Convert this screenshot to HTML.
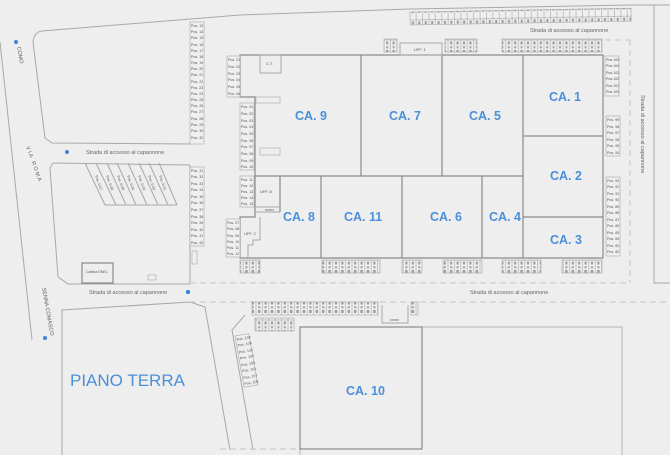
<!DOCTYPE html>
<html><head><meta charset="utf-8"><style>
html,body{margin:0;padding:0;background:#eeeeee;}
svg{display:block;font-family:"Liberation Sans",sans-serif;}
.l{fill:none;stroke:#a8a8a8;stroke-width:1}
.b{fill:none;stroke:#8a8a8a;stroke-width:1.2}
.d{fill:none;stroke:#c4c4c4;stroke-width:1;stroke-dasharray:6 4}
.p{fill:#efefef;stroke:#a5a5a5;stroke-width:.6}
.t{font-size:4px;fill:#555}
.v{font-size:3.6px;fill:#555}
.ca{font-size:12.5px;font-weight:bold;fill:#4a90d9}
.r{font-size:5.5px;fill:#666}
.dot{fill:#3a86d8}
</style></head><body>
<svg width="670" height="455" viewBox="0 0 670 455" xmlns="http://www.w3.org/2000/svg">
<!-- streets / lots -->
<polyline class="l" points="0,42 32,340"/>
<path class="l" d="M42,31 L240,15 L410,9 L630,5 L670,5"/>
<path class="l" d="M42,31 Q34,32 33,42 L45,138 L52,143 L190,144"/>
<path class="l" d="M53,163 L50,168 L58,277 L68,284 L190,284"/>
<line class="l" x1="53" y1="163" x2="190" y2="165"/>
<line class="l" x1="190" y1="165" x2="190" y2="284"/>
<path class="l" d="M62,330 L62,310 L190,302"/>
<path class="l" d="M190,302 L205,307 L230,450"/>
<path class="l" d="M245,315 L232,330 L253,450"/>
<path class="l" d="M654,5 L654,283 L670,283"/>
<line class="l" x1="62" y1="330" x2="62" y2="455"/>
<!-- dashed roads -->
<line class="d" x1="190" y1="283" x2="630" y2="283"/>
<line class="d" x1="190" y1="302" x2="670" y2="302"/>
<line class="d" x1="630" y1="40" x2="630" y2="283"/>
<line class="d" x1="605" y1="40" x2="630" y2="40"/>
<line class="d" x1="220" y1="449" x2="300" y2="449"/>
<!-- main building -->
<path class="b" d="M240,55 L603,55 L603,258 L240,258 L240,217 L255,217 L255,97 L240,97 Z"/>
<line class="b" x1="361" y1="55" x2="361" y2="176"/>
<line class="b" x1="442" y1="55" x2="442" y2="176"/>
<line class="b" x1="523" y1="55" x2="523" y2="258"/>
<line class="b" x1="255" y1="176" x2="523" y2="176"/>
<line class="b" x1="523" y1="136" x2="603" y2="136"/>
<line class="b" x1="523" y1="217" x2="603" y2="217"/>
<line class="b" x1="482" y1="176" x2="482" y2="258"/>
<line class="b" x1="402" y1="176" x2="402" y2="258"/>
<line class="b" x1="321" y1="176" x2="321" y2="258"/>
<line class="b" x1="280" y1="176" x2="280" y2="212"/>
<path class="l" d="M255,207 L280,207 M255,212 L280,212"/>
<path class="l" d="M260,217 L260,240 L253,240 L253,245 L248,245 L248,258"/>
<rect class="l" x="260" y="55" width="21" height="18"/>
<text class="t" x="266" y="65">C.T.</text>
<rect class="p" x="256" y="97" width="24" height="6"/>
<rect class="p" x="260" y="148" width="20" height="7"/>
<text class="v" x="265" y="211">xxxxx</text>
<text class="t" x="260" y="193">UFF. 8</text>
<text class="t" x="244" y="235">UFF. 2</text>
<rect class="l" x="400" y="43" width="42" height="12"/>
<text class="t" x="414" y="51">UFF. 1</text>
<!-- CA.10 -->
<rect x="300" y="327" width="322" height="130" fill="none" stroke="#b5b5b5" stroke-width="1"/>
<rect class="b" x="300" y="327" width="122" height="122"/>
<path class="l" d="M382,305 L382,323 L408,323 L408,305"/>
<!-- labels -->
<text class="ca" x="295" y="120">CA. 9</text>
<text class="ca" x="389" y="120">CA. 7</text>
<text class="ca" x="469" y="120">CA. 5</text>
<text class="ca" x="549" y="101">CA. 1</text>
<text class="ca" x="550" y="180">CA. 2</text>
<text class="ca" x="550" y="244">CA. 3</text>
<text class="ca" x="489" y="221">CA. 4</text>
<text class="ca" x="430" y="221">CA. 6</text>
<text class="ca" x="344" y="221">CA. 11</text>
<text class="ca" x="283" y="221">CA. 8</text>
<text class="ca" x="346" y="395">CA. 10</text>
<text x="70" y="386" font-size="17" fill="#4a90d9">PIANO TERRA</text>
<!-- road labels -->
<text class="r" x="86" y="154">Strada di accesso al capannone</text>
<text class="r" x="89" y="294">Strada di accesso al capannone</text>
<text class="r" x="470" y="294">Strada di accesso al capannone</text>
<text class="r" x="530" y="32">Strada di accesso al capannone</text>
<text class="r" transform="translate(641,95) rotate(90)">Strada di accesso al capannone</text>
<text class="r" transform="translate(26,147) rotate(70)" font-size="6">V I A &#160; R O M A</text>
<text class="r" transform="translate(42,288) rotate(80)">SENNA COMASCO</text>
<text class="r" transform="translate(17,47) rotate(80)">COMO</text>
<circle class="dot" cx="16" cy="42" r="2"/><circle class="dot" cx="67" cy="152" r="2"/>
<circle class="dot" cx="188" cy="292" r="2"/><circle class="dot" cx="45" cy="338" r="2"/>
<circle class="dot" cx="188" cy="292" r="2"/><circle class="dot" cx="188" cy="292" r="2"/>
<!-- cabina -->
<rect class="b" x="82" y="263" width="31" height="20"/>
<text class="v" x="86" y="273">Cabina ENEL</text>
<rect class="p" x="148" y="275" width="8" height="5"/>
<rect class="p" x="192" y="251" width="5" height="13"/>
<!-- diagonal parking -->
<g class="l">
<line x1="85" y1="163" x2="105" y2="205"/><line x1="96" y1="163" x2="116" y2="205"/>
<line x1="107" y1="163" x2="126" y2="205"/><line x1="117" y1="163" x2="136" y2="205"/>
<line x1="128" y1="163" x2="147" y2="205"/><line x1="139" y1="163" x2="158" y2="205"/>
<line x1="149" y1="163" x2="168" y2="205"/><line x1="159" y1="163" x2="177" y2="205"/>
<line x1="105" y1="205" x2="177" y2="205"/>
</g>
<g class="v">
<text transform="translate(95,176) rotate(70)">Pos. 0-07</text>
<text transform="translate(106,176) rotate(70)">Pos. 0-06</text>
<text transform="translate(117,176) rotate(70)">Pos. 0-05</text>
<text transform="translate(127,176) rotate(70)">Pos. 0-04</text>
<text transform="translate(138,176) rotate(70)">Pos. 0-03</text>
<text transform="translate(148,176) rotate(70)">Pos. 0-02</text>
<text transform="translate(159,176) rotate(70)">Pos. 0-01</text>
</g>
<!-- horizontal pos columns -->
<g>
<rect class="p" x="190" y="22" width="14" height="122"/>
<g class="v">
<text x="191" y="27">Pos. 13</text><text x="191" y="33">Pos. 14</text><text x="191" y="39">Pos. 15</text><text x="191" y="46">Pos. 16</text><text x="191" y="52">Pos. 17</text><text x="191" y="58">Pos. 18</text><text x="191" y="64">Pos. 19</text><text x="191" y="70">Pos. 20</text><text x="191" y="76">Pos. 21</text><text x="191" y="83">Pos. 22</text><text x="191" y="89">Pos. 23</text><text x="191" y="95">Pos. 24</text><text x="191" y="101">Pos. 25</text><text x="191" y="107">Pos. 26</text><text x="191" y="113">Pos. 27</text><text x="191" y="120">Pos. 28</text><text x="191" y="126">Pos. 29</text><text x="191" y="132">Pos. 30</text><text x="191" y="139">Pos. 32</text>
</g>
<rect class="p" x="190" y="167" width="14" height="79"/>
<g class="v">
<text x="191" y="172">Pos. 31</text><text x="191" y="178">Pos. 32</text><text x="191" y="185">Pos. 33</text><text x="191" y="191">Pos. 34</text><text x="191" y="198">Pos. 35</text><text x="191" y="204">Pos. 36</text><text x="191" y="211">Pos. 37</text><text x="191" y="218">Pos. 38</text><text x="191" y="224">Pos. 39</text><text x="191" y="231">Pos. 40</text><text x="191" y="237">Pos. 41</text><text x="191" y="244">Pos. 42</text>
</g>
<rect class="p" x="227" y="56" width="13" height="41"/>
<g class="v">
<text x="228" y="61">Pos. 01</text><text x="228" y="68">Pos. 02</text><text x="228" y="75">Pos. 03</text><text x="228" y="81">Pos. 04</text><text x="228" y="88">Pos. 05</text><text x="228" y="95">Pos. 06</text>
</g>
<rect class="p" x="240" y="103" width="14" height="67"/>
<g class="v">
<text x="241" y="108">Pos. 01</text><text x="241" y="115">Pos. 02</text><text x="241" y="122">Pos. 03</text><text x="241" y="128">Pos. 04</text><text x="241" y="135">Pos. 05</text><text x="241" y="142">Pos. 06</text><text x="241" y="148">Pos. 07</text><text x="241" y="155">Pos. 08</text><text x="241" y="162">Pos. 09</text><text x="241" y="168">Pos. 10</text>
</g>
<rect class="p" x="240" y="176" width="14" height="31"/>
<g class="v">
<text x="241" y="181">Pos. 11</text><text x="241" y="187">Pos. 12</text><text x="241" y="193">Pos. 13</text><text x="241" y="199">Pos. 14</text><text x="241" y="205">Pos. 15</text>
</g>
<rect class="p" x="226" y="219" width="14" height="38"/>
<g class="v">
<text x="227" y="224">Pos. 07</text><text x="227" y="230">Pos. 08</text><text x="227" y="237">Pos. 09</text><text x="227" y="243">Pos. 10</text><text x="227" y="249">Pos. 11</text><text x="227" y="255">Pos. 12</text>
</g>
<rect class="p" x="605" y="56" width="14" height="40"/>
<g class="v">
<text x="606" y="61">Pos.105</text><text x="606" y="67">Pos.104</text><text x="606" y="74">Pos.103</text><text x="606" y="80">Pos.102</text><text x="606" y="87">Pos.101</text><text x="606" y="93">Pos.100</text>
</g>
<rect class="p" x="606" y="116" width="14" height="40"/>
<g class="v">
<text x="607" y="121">Pos. 99</text><text x="607" y="128">Pos. 98</text><text x="607" y="134">Pos. 97</text><text x="607" y="141">Pos. 96</text><text x="607" y="147">Pos. 95</text><text x="607" y="154">Pos. 94</text>
</g>
<rect class="p" x="606" y="177" width="14" height="79"/>
<g class="v">
<text x="607" y="182">Pos. 93</text><text x="607" y="188">Pos. 92</text><text x="607" y="195">Pos. 91</text><text x="607" y="201">Pos. 90</text><text x="607" y="208">Pos. 89</text><text x="607" y="214">Pos. 88</text><text x="607" y="221">Pos. 87</text><text x="607" y="227">Pos. 86</text><text x="607" y="234">Pos. 85</text><text x="607" y="240">Pos. 84</text><text x="607" y="247">Pos. 83</text><text x="607" y="253">Pos. 82</text>
</g>
</g>
<!-- vertical pos rows (drawn as strips with dividers) -->
<defs>
<pattern id="vp" width="6.4" height="20" patternUnits="userSpaceOnUse">
<rect x="0" y="0" width="6.4" height="20" fill="#efefef" stroke="#a5a5a5" stroke-width=".6"/>
<rect x="2.2" y="1.5" width="2" height="3" fill="#999"/>
<rect x="2.2" y="6" width="2" height="2.5" fill="#aaa"/>
<rect x="2" y="10" width="2.4" height="3" fill="#999"/>
</pattern>
</defs>
<g stroke="#a5a5a5" stroke-width=".6">
<rect x="410" y="12" width="221" height="13" fill="url(#vp)" transform="rotate(-1 410 12)"/>
<rect x="384" y="39" width="13" height="13" fill="url(#vp)"/>
<rect x="445" y="39" width="32" height="13" fill="url(#vp)"/>
<rect x="502" y="39" width="100" height="13" fill="url(#vp)"/>
<rect x="240" y="260" width="20" height="13" fill="url(#vp)"/>
<rect x="322" y="260" width="58" height="13" fill="url(#vp)"/>
<rect x="402" y="260" width="20" height="13" fill="url(#vp)"/>
<rect x="443" y="260" width="39" height="13" fill="url(#vp)"/>
<rect x="502" y="260" width="39" height="13" fill="url(#vp)"/>
<rect x="562" y="260" width="40" height="13" fill="url(#vp)"/>
<rect x="252" y="302" width="126" height="13" fill="url(#vp)"/>
<rect x="411" y="302" width="7" height="13" fill="url(#vp)"/>
<rect x="255" y="318" width="39" height="13" fill="url(#vp)"/>
</g>
<text class="v" x="390" y="321">xxxxx</text>
<!-- slanted pos column lower-left -->
<g transform="translate(235,336) rotate(-10)">
<rect class="p" x="0" y="0" width="14" height="52"/>
<g class="v">
<text x="1" y="5">Pos. 100</text><text x="1" y="11">Pos. 106</text><text x="1" y="18">Pos. 102</text><text x="1" y="24">Pos. 104</text><text x="1" y="31">Pos. 103</text><text x="1" y="37">Pos. 101</text><text x="1" y="44">Pos. 107</text><text x="1" y="50">Pos. 105</text>
</g>
</g>
</svg>
</body></html>
